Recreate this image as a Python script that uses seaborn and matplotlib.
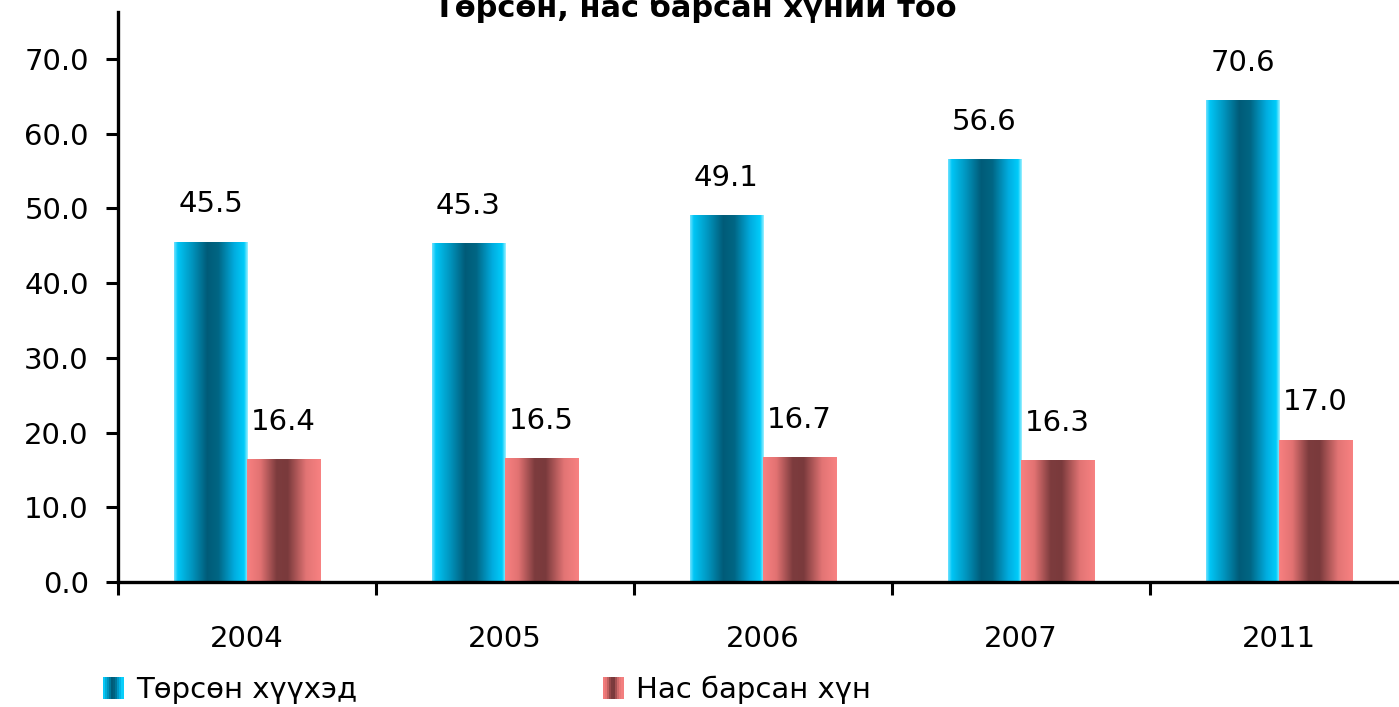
import numpy as np
import pandas as pd
import matplotlib
matplotlib.use('Agg')
import matplotlib.pyplot as plt
import seaborn as sns
from matplotlib.colors import LinearSegmentedColormap
from matplotlib.patches import Rectangle, Patch
from matplotlib.legend_handler import HandlerBase

# data
years = ['2004', '2005', '2006', '2007', '2011']
born_labels = [45.5, 45.3, 49.1, 56.6, 70.6]
died_labels = [16.4, 16.5, 16.7, 16.3, 17.0]
# bar heights as drawn in the source (2011 bars do not match their labels)
born_height = [45.5, 45.3, 49.1, 56.6, 64.4]
died_height = [16.4, 16.5, 16.7, 16.3, 19.0]
series = ['Төрсөн хүүхэд', 'Нас барсан хүн']
title = 'Төрсөн, нас барсан хүний тоо'

df = pd.DataFrame({
    'year': years * 2,
    'value': born_height + died_height,
    'series': [series[0]] * 5 + [series[1]] * 5,
})

blue_cmap = LinearSegmentedColormap.from_list('blue', [
    (0.0, '#6fe2ff'), (0.05, '#00c6f6'), (0.25, '#0093bc'), (0.45, '#005b78'),
    (0.6, '#006684'), (0.82, '#00ade0'), (0.95, '#00ccfa'), (1.0, '#9ff0ff')])
red_cmap = LinearSegmentedColormap.from_list('red', [
    (0.0, '#f88080'), (0.18, '#e27272'), (0.4, '#7d3c3e'), (0.55, '#7a3a3c'),
    (0.8, '#e27474'), (1.0, '#f88282')])

sns.set_style('white')
plt.rcParams['font.family'] = ['DejaVu Sans']
for k in ['text.color', 'axes.labelcolor', 'xtick.color', 'ytick.color']:
    plt.rcParams[k] = 'black'

fig = plt.figure(figsize=(13.99, 7.07), dpi=100)
ax = fig.add_axes([118 / 1399, 125 / 707, 1290 / 1399, 570 / 707])

sns.barplot(data=df, x='year', y='value', hue='series', order=years,
            hue_order=series, width=0.566, palette=['#00c6f6', '#f88080'],
            legend=False, ax=ax, errorbar=None)

grad = np.linspace(0, 1, 256).reshape(1, -1)
for cont, cmap, labs in zip(ax.containers, [blue_cmap, red_cmap], [born_labels, died_labels]):
    for bar, lab in zip(cont, labs):
        x0, y0 = bar.get_x(), bar.get_y()
        w, h = bar.get_width(), bar.get_height()
        bar.set_facecolor('none')
        bar.set_edgecolor('none')
        ax.imshow(grad, extent=[x0, x0 + w, y0, y0 + h], aspect='auto',
                  cmap=cmap, zorder=2, interpolation='bilinear')
        ax.annotate(f'{lab:.1f}', (x0 + w / 2, y0 + h), xytext=(0, 17),
                    textcoords='offset points', ha='center', va='bottom',
                    fontsize=21)

ax.set_xlim(-0.5, 4.5)
ax.set_ylim(0, 76.3)
ax.set_yticks(np.arange(0, 71, 10))
ax.set_yticklabels([f'{v:.1f}' for v in np.arange(0, 71, 10)])
ax.set_xticks(np.arange(-0.5, 5, 1), minor=True)
ax.tick_params(axis='x', which='major', length=0, pad=31, labelsize=21)
ax.tick_params(axis='x', which='minor', length=9, width=2.2, direction='out', bottom=True)
ax.tick_params(axis='y', length=9, width=2.2, direction='out', pad=12, labelsize=21, left=True)
ax.set_xlabel('')
ax.set_ylabel('')
sns.despine(ax=ax)
for s in ['left', 'bottom']:
    ax.spines[s].set_linewidth(2.4)
    ax.spines[s].set_color('black')


class GradHandler(HandlerBase):
    def __init__(self, cmap):
        super().__init__()
        self.cmap = cmap

    def create_artists(self, legend, orig_handle, xdescent, ydescent,
                       width, height, fontsize, trans):
        n = 10
        arts = []
        for i in range(n):
            r = Rectangle((-xdescent + i * width / n, -ydescent), width / n + 0.3,
                          height, facecolor=self.cmap((i + 0.5) / n),
                          edgecolor='none', transform=trans)
            arts.append(r)
        return arts


h1 = Patch(label=series[0])
h2 = Patch(label=series[1])
fig.legend(handles=[h1, h2], handler_map={h1: GradHandler(blue_cmap), h2: GradHandler(red_cmap)},
           loc='center left', bbox_to_anchor=(103 / 1399, 1 - 690 / 707), ncol=2,
           frameon=False, fontsize=21, handlelength=0.7, handleheight=0.8,
           handletextpad=0.45, columnspacing=8.4, borderpad=0, borderaxespad=0)

fig.text(0.497, 1 - 17 / 707, title, ha='center', va='baseline',
         fontsize=22, fontweight='bold')

fig.savefig('out.png', dpi=100)
